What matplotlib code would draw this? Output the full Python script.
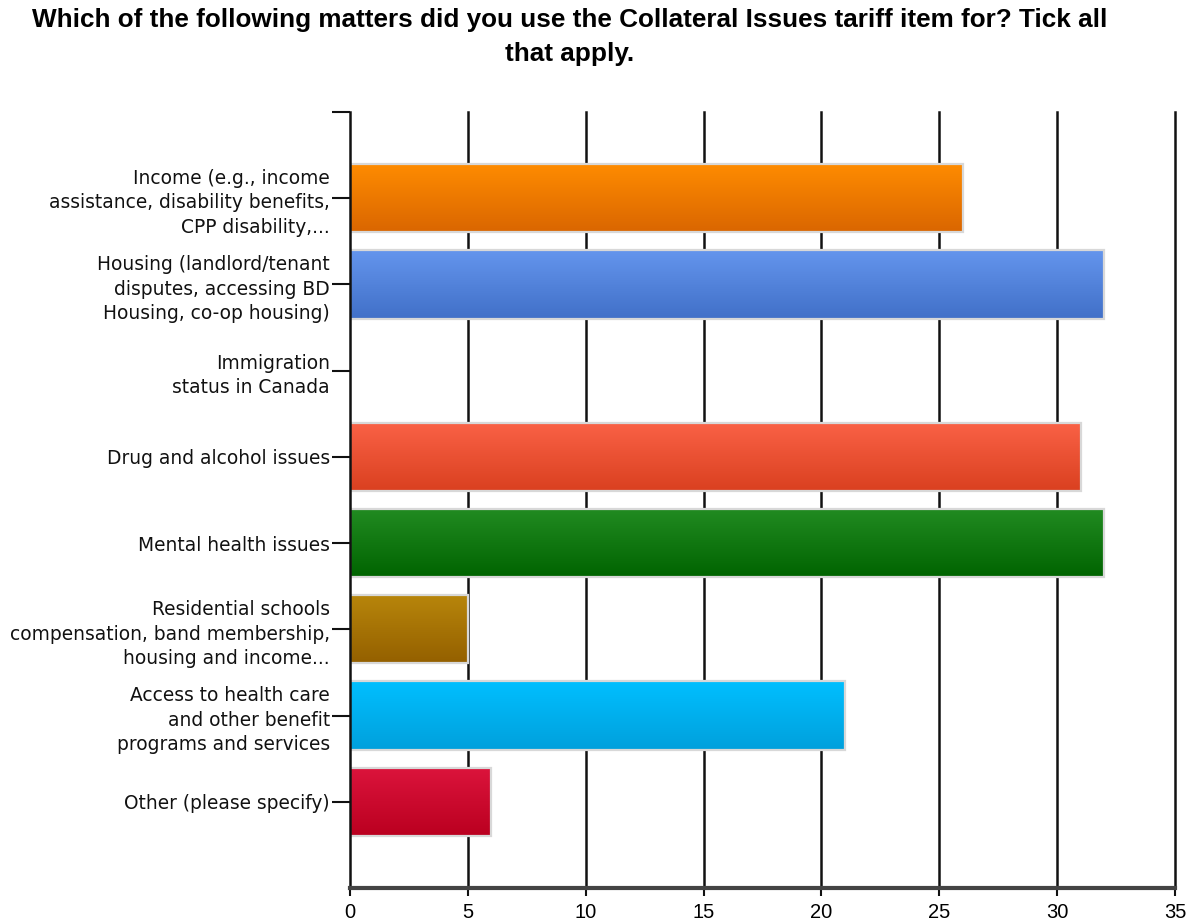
import numpy as np
import matplotlib
matplotlib.use("Agg")
import matplotlib.pyplot as plt
from matplotlib.colors import to_rgb

title = ("Which of the following matters did you use the Collateral Issues tariff item for? Tick all\n"
         "that apply.")

categories = [
    "Income (e.g., income\nassistance, disability benefits,\nCPP disability,...",
    "Housing (landlord/tenant\ndisputes, accessing BD\nHousing, co-op housing)",
    "Immigration\nstatus in Canada",
    "Drug and alcohol issues",
    "Mental health issues",
    "Residential schools\ncompensation, band membership,\nhousing and income...",
    "Access to health care\nand other benefit\nprograms and services",
    "Other (please specify)",
]
responses = [26, 32, 0, 31, 32, 5, 21, 6]

# gradient endpoints (top, bottom) for each bar
top_colors = ["#FF8C00", "#6495ED", "#808080", "#FA6246", "#228B22", "#B8860B", "#00BFFF", "#DC143C"]
bottom_colors = ["#DA6600", "#4170C8", "#606060", "#DA4020", "#006400", "#946000", "#00A0DC", "#BA0020"]

x_ticks = [0, 5, 10, 15, 20, 25, 30, 35]

fig = plt.figure(figsize=(11.99, 9.24), dpi=100)
ax = fig.add_axes([350 / 1199, 36 / 924, 825 / 1199, 776 / 924])

bar_h = 0.79
ypos = np.arange(len(categories))

for y, v, c0, c1 in zip(ypos, responses, top_colors, bottom_colors):
    if v > 0:
        a = np.array(to_rgb(c0))
        b = np.array(to_rgb(c1))
        t = np.linspace(0, 1, 128)[:, None]
        grad = (a * (1 - t) + b * t)[:, None, :]
        ax.imshow(grad, extent=[0, v, y + bar_h / 2, y - bar_h / 2],
                  origin="upper", aspect="auto", zorder=3, interpolation="bilinear")
    ax.barh(y, v, height=bar_h, left=0, facecolor="none",
            edgecolor="#d8d8d8", linewidth=1.6, zorder=4)

ax.set_xlim(0, 35)
ax.set_ylim(len(categories), -1)

# vertical grid lines
for xv in x_ticks[1:]:
    ax.axvline(xv, color="#111111", linewidth=1.8, zorder=1, clip_on=False)

ax.set_xticks(x_ticks)
ax.set_xticklabels([str(t) for t in x_ticks], fontsize=14.5, family="Liberation Sans")
ax.set_yticks(ypos)
ax.set_yticklabels(categories, fontsize=13.4, family="DejaVu Sans", color="#111111",
                   linespacing=1.36)
ax.set_yticks([-1], minor=True)

ax.tick_params(axis="y", which="both", length=13, width=1.5, direction="out", color="#111111", pad=1.5)
ax.tick_params(axis="x", length=6, width=1.5, direction="out", color="#111111", pad=5)

for s in ["top", "right"]:
    ax.spines[s].set_visible(False)
ax.spines["left"].set_color("#111111")
ax.spines["left"].set_linewidth(1.8)
ax.spines["bottom"].set_color("#444444")
ax.spines["bottom"].set_linewidth(3)
ax.spines["left"].set_zorder(5)
ax.spines["bottom"].set_zorder(5)

fig.text(570 / 1199, 1 - 8 / 924, title, ha="center", va="top", fontsize=18.8,
         fontweight="bold", family="Liberation Sans", linespacing=1.5)

fig.savefig("out.png", dpi=100, facecolor="white")
